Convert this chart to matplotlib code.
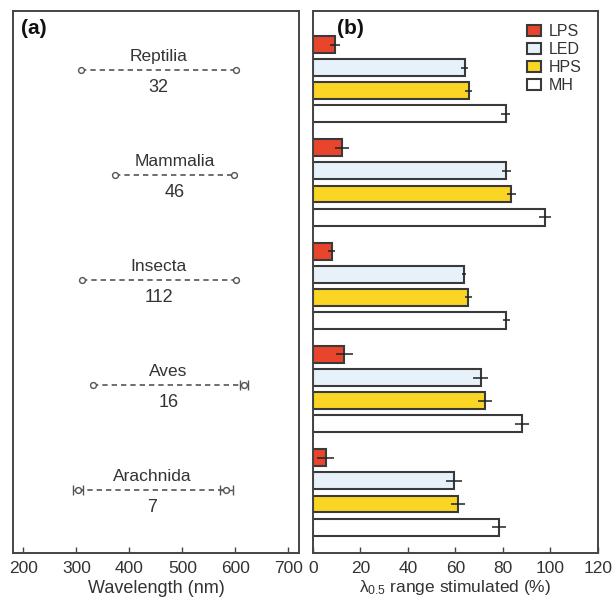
import numpy as np
import matplotlib
matplotlib.use('Agg')
import matplotlib.pyplot as plt
from matplotlib.patches import Patch

plt.rcParams["font.family"] = ["Liberation Sans", "DejaVu Sans"]
plt.rcParams["mathtext.fontset"] = "custom"
plt.rcParams["mathtext.rm"] = "Liberation Sans"
plt.rcParams["mathtext.it"] = "Liberation Sans"

txt_col = "#333333"
edge_col = "#3a3a3a"

#%% data
taxa = ["Reptilia", "Mammalia", "Insecta", "Aves", "Arachnida"]
n_species = [32, 46, 112, 16, 7]
wl_low = [308, 373, 310, 331, 303]
wl_high = [602, 597, 601, 616, 583]
wl_low_err = [0, 0, 0, 0, 10]
wl_high_err = [0, 0, 0, 8, 12]

lamps = ["LPS", "LED", "HPS", "MH"]
lamp_colors = ["#e8452c", "#e6f1fa", "#fad524", "#ffffff"]
# rows = taxa, cols = lamps
stim = np.array([
    [9.4, 64.0, 65.7, 81.2],
    [12.2, 81.5, 83.6, 97.6],
    [8.0, 63.7, 65.4, 81.5],
    [13.3, 70.6, 72.4, 88.2],
    [5.5, 59.4, 61.2, 78.3],
])
stim_err = np.array([
    [2.0, 1.5, 1.5, 2.0],
    [3.0, 2.0, 2.0, 2.5],
    [1.5, 1.0, 1.5, 1.5],
    [3.5, 3.0, 3.0, 3.0],
    [3.5, 3.5, 3.0, 3.0],
])

fig = plt.figure(figsize=(6.12, 6.01), dpi=100)
ax1 = fig.add_axes([0.0208, 0.0799, 0.4678, 0.9018])
ax2 = fig.add_axes([0.511, 0.0799, 0.466, 0.9018])

#%% panel (a)
for i, name in enumerate(taxa):
    ax1.plot([wl_low[i], wl_high[i]], [i, i], ls=(0, (3.2, 2.4)), color="#555555", lw=1.2, zorder=2)
    ax1.plot([wl_low[i], wl_high[i]], [i, i], ls="none", marker="o", ms=4.2,
             mfc="white", mec="#555555", mew=1.0, zorder=4)
    for x, e in [(wl_low[i], wl_low_err[i]), (wl_high[i], wl_high_err[i])]:
        if e > 0:
            ax1.errorbar(x, i, xerr=e, fmt="none", ecolor="#555555", elinewidth=1.0,
                         capsize=3.5, capthick=1.0, zorder=3)
    mid = (wl_low[i] + wl_high[i]) / 2
    ax1.annotate(name, xy=(mid, i), xytext=(0, 4.5), textcoords="offset points",
                 ha="center", va="bottom", fontsize=12.5, color=txt_col)
    ax1.annotate(str(n_species[i]), xy=(mid, i), xytext=(0, -6.5), textcoords="offset points",
                 ha="center", va="top", fontsize=13, color=txt_col)

ax1.set_xlim(180, 720)
ax1.set_ylim(4.6, -0.562)
ax1.set_xticks(np.arange(200, 701, 100))
ax1.set_yticks([])
ax1.set_xlabel("Wavelength (nm)", fontsize=13, color=txt_col, labelpad=3)
ax1.text(0.03, 0.985, "(a)", transform=ax1.transAxes, fontsize=15, fontweight="bold",
         ha="left", va="top", color="#111111")

#%% panel (b)
group_step = 4.47
bar_h = 0.73
for g in range(len(taxa)):
    for k in range(len(lamps)):
        y = g * group_step + k
        ax2.barh(y, stim[g, k], height=bar_h, color=lamp_colors[k], edgecolor=edge_col,
                 linewidth=1.5, zorder=2)
        ax2.errorbar(stim[g, k], y, xerr=stim_err[g, k], fmt="none", ecolor="#222222",
                     elinewidth=1.1, capsize=0, zorder=3)

ax2.set_xlim(0, 120)
ax2.set_ylim(22.0, -1.45)
ax2.set_xticks(np.arange(0, 121, 20))
ax2.set_yticks([])
ax2.set_xlabel(r"$\lambda_{0.5}$ range stimulated (%)", fontsize=12.5, color=txt_col, labelpad=1.5)
ax2.text(0.085, 0.985, "(b)", transform=ax2.transAxes, fontsize=15, fontweight="bold",
         ha="left", va="top", color="#111111")

handles = [Patch(facecolor=c, edgecolor=edge_col, linewidth=1.5) for c in lamp_colors]
ax2.legend(handles, lamps, loc="upper right", bbox_to_anchor=(0.965, 0.988), frameon=False,
           fontsize=11.5, handlelength=0.85, handleheight=0.7, handletextpad=0.5,
           labelspacing=0.2, borderaxespad=0, labelcolor=txt_col)

for ax in (ax1, ax2):
    for s in ax.spines.values():
        s.set_color("#444444")
        s.set_linewidth(1.4)
    ax.tick_params(axis="x", direction="in", length=4, width=1.0, colors="#444444",
                   labelsize=12.5, labelcolor=txt_col, pad=6)

fig.savefig("out.png", dpi=100)
